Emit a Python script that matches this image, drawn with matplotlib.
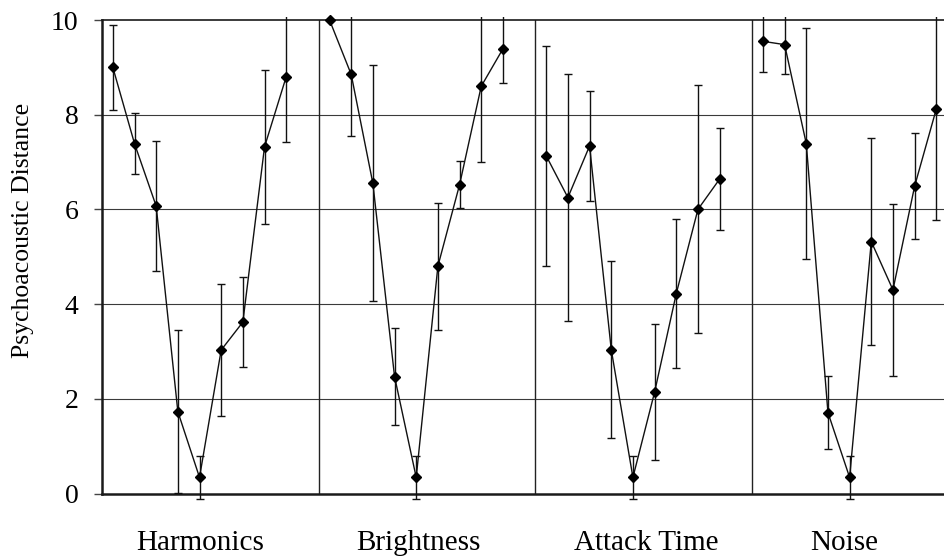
import matplotlib
matplotlib.use("Agg")
import matplotlib.pyplot as plt
from matplotlib.patches import Rectangle
import numpy as np

plt.rcParams["font.family"] = ["Liberation Serif", "DejaVu Serif"]

# Psychoacoustic distance per sound dimension, nine stimuli each
categories = ["Harmonics", "Brightness", "Attack Time", "Noise"]

harmonics_mean = [9.00, 7.39, 6.07, 1.73, 0.34, 3.03, 3.62, 7.32, 8.80]
harmonics_err = [0.90, 0.65, 1.37, 1.72, 0.46, 1.40, 0.95, 1.63, 1.37]

brightness_mean = [10.00, 8.85, 6.55, 2.47, 0.34, 4.80, 6.52, 8.60, 9.39]
brightness_err = [0.00, 1.31, 2.49, 1.03, 0.46, 1.34, 0.50, 1.59, 0.71]

attack_mean = [7.13, 6.25, 7.34, 3.04, 0.34, 2.14, 4.22, 6.00, 6.64]
attack_err = [2.32, 2.60, 1.16, 1.87, 0.46, 1.44, 1.57, 2.62, 1.07]

noise_mean = [9.55, 9.48, 7.39, 1.71, 0.34, 5.32, 4.30, 6.49, 8.12]
noise_err = [0.65, 0.63, 2.44, 0.78, 0.46, 2.19, 1.81, 1.12, 2.35]

y_ticks = [0, 2, 4, 6, 8, 10]

means = [harmonics_mean, brightness_mean, attack_mean, noise_mean]
errors = [harmonics_err, brightness_err, attack_err, noise_err]

# Small horizontal nudges (in slots) for the group captions
caption_shift = [0.05, 0.1, 0.6, -0.25]

W, H = 944, 559
fig = plt.figure(figsize=(W / 100, H / 100), dpi=100)

# Plot area in pixels: left edge 102, slot width ~21.67, 40 slots (runs past the right edge)
left_px, bottom_px, top_px = 102, 493.5, 20
slot_px = 21.67
n_slots = 40
ax = fig.add_axes([left_px / W, (H - bottom_px) / H,
                   n_slots * slot_px / W, (bottom_px - top_px) / H])
ax.set_xlim(0, n_slots)
ax.set_ylim(0, 10)

# Error bars may poke slightly above the top frame and below zero
clip = Rectangle((0, -1), n_slots, 11.07, transform=ax.transData,
                 facecolor="none", edgecolor="none")
ax.add_patch(clip)

# Horizontal grid and group separators
for yv in y_ticks[1:-1]:
    ax.axhline(yv, color="#3a3a3a", lw=0.8, zorder=1)
group_len = len(harmonics_mean) + 1
for g in range(1, len(categories)):
    ax.axvline(g * group_len, color="#222222", lw=1.0, zorder=1)

for g, (m, e) in enumerate(zip(means, errors)):
    x = g * group_len + np.arange(len(m)) + 0.5
    cont = ax.errorbar(x, m, yerr=e, fmt="none", ecolor="#111111",
                       elinewidth=1.0, capsize=3.0, capthick=1.0, zorder=3)
    for art in cont.get_children():
        art.set_clip_on(True)
        art.set_clip_path(clip)
    ax.plot(x, m, color="#111111", lw=1.0, marker="D", markersize=4.6,
            markerfacecolor="black", markeredgecolor="black", zorder=4,
            clip_on=False)
    ax.text(g * group_len + (len(m) - 1) / 2 + 0.5 + caption_shift[g], -0.1193,
            categories[g], transform=ax.get_xaxis_transform(),
            ha="center", va="baseline", fontsize=21)

ax.set_xticks([])
ax.set_yticks(y_ticks)
ax.set_yticklabels([str(t) for t in y_ticks], fontsize=20)
ax.tick_params(axis="y", direction="out", length=6, width=1.0,
               color="#444444", pad=11)

for side in ["left", "bottom"]:
    ax.spines[side].set_linewidth(1.8)
    ax.spines[side].set_color("#1a1a1a")
ax.spines["top"].set_linewidth(1.2)
ax.spines["top"].set_color("#1a1a1a")
ax.spines["right"].set_visible(False)

fig.text(23 / W, (H - 230.6) / H, "Psychoacoustic Distance", rotation=90,
         ha="center", va="center", fontsize=18.5)

fig.savefig("out.png", dpi=100)
